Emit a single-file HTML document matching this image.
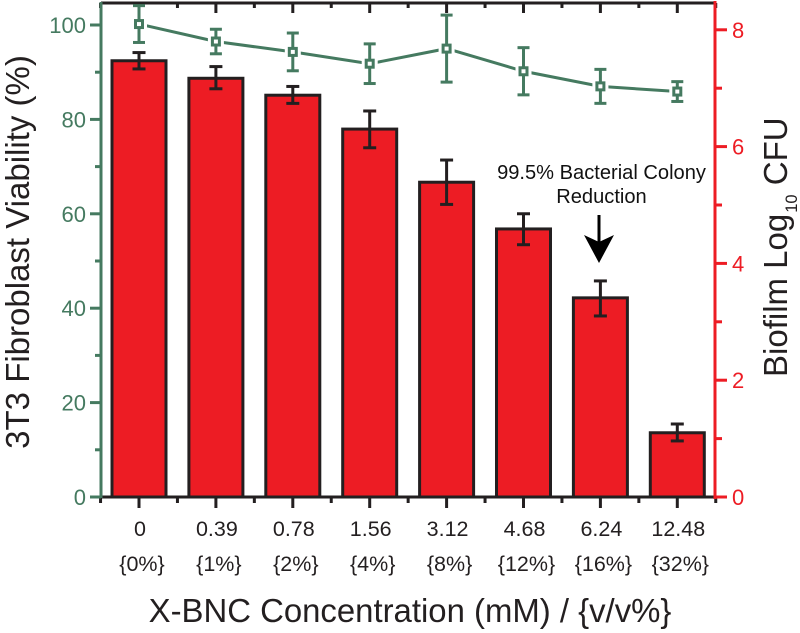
<!DOCTYPE html>
<html lang="en">
<head>
<meta charset="utf-8">
<title>X-BNC viability and biofilm chart</title>
<style>
html,body{margin:0;padding:0;background:#fff;width:800px;height:633px;overflow:hidden}
svg{display:block;font-family:"Liberation Sans",sans-serif}
</style>
</head>
<body>
<svg id="chart" width="800" height="633" viewBox="0 0 800 633" xmlns="http://www.w3.org/2000/svg">
<text transform="translate(29,252) rotate(-90)" text-anchor="middle" font-size="33" fill="#231f20">3T3 Fibroblast Viability (%)</text>
<text transform="translate(787,377) rotate(-90)" text-anchor="start" font-size="33" fill="#231f20">Biofilm Log<tspan font-size="16.5" dx="1" dy="10">10</tspan><tspan dx="0" dy="-10"> CFU</tspan></text>
<text x="410" y="622" text-anchor="middle" font-size="32.9" fill="#231f20">X-BNC Concentration (mM) / {v/v%}</text>
<text x="601.5" y="179" text-anchor="middle" font-size="20.1" fill="#111">99.5% Bacterial Colony</text>
<text x="601.5" y="203" text-anchor="middle" font-size="20.1" fill="#111">Reduction</text>
<line x1="599" y1="215" x2="599" y2="250" stroke="#000" stroke-width="3"/>
<polygon points="584,235 599,242 614,235 599,263" fill="#000"/>
</svg>
<script>
var categories = ['0', '0.39', '0.78', '1.56', '3.12', '4.68', '6.24', '12.48'];
var percentLabels = ['{0%}', '{1%}', '{2%}', '{4%}', '{8%}', '{12%}', '{16%}', '{32%}'];
var biofilmValues = [7.47, 7.17, 6.88, 6.3, 5.39, 4.59, 3.41, 1.1];
var biofilmErrUp = [0.14, 0.2, 0.15, 0.31, 0.38, 0.26, 0.29, 0.15];
var biofilmErrDown = [0.14, 0.18, 0.14, 0.32, 0.38, 0.27, 0.31, 0.14];
var viabilityValues = [100.2, 96.5, 94.3, 91.8, 95, 90.2, 87, 85.9];
var viabilityErr = [3.9, 2.6, 4, 4.2, 7.1, 5, 3.6, 2.1];
var leftTicks = [0, 20, 40, 60, 80, 100];
var leftMinorTicks = [10, 30, 50, 70, 90];
var rightTicks = [0, 2, 4, 6, 8];
var rightMinorTicks = [1, 3, 5, 7];

var NS = 'http://www.w3.org/2000/svg';
var svg = document.getElementById('chart');
var BLACK = '#231f20', GREEN = '#457a60', RED = '#ed1c24';
var plotLeft = 101, plotRight = 715, plotTop = 3, plotBottom = 497;

function xPos(i) { return 139 + i * 76.9; }
function yLeft(v) { return 497 - v * 4.72; }
function yRight(v) { return 497 - v * 58.4; }

function make(tag, attrs, name) {
  var el = document.createElementNS(NS, tag);
  for (var k in attrs) { el.setAttribute(k, attrs[k]); }
  
  
  svg.appendChild(el);
  return el;
}
function line(x1, y1, x2, y2, color, w, name) {
  return make('line', { x1: x1, y1: y1, x2: x2, y2: y2, stroke: color, 'stroke-width': w }, name);
}
function label(x, y, txt, size, color, anchor, name) {
  var t = make('text', { x: x, y: y, 'font-size': size, fill: color, 'text-anchor': anchor }, name);
  t.textContent = txt;
  return t;
}

var barW = 54;
biofilmValues.forEach(function (v, i) {
  var x = xPos(i), top = yRight(v);
  make('rect', { x: x - barW / 2, y: top, width: barW, height: plotBottom - top, fill: RED, stroke: BLACK, 'stroke-width': 3 }, 'bar-' + categories[i]);
  var hi = yRight(v + biofilmErrUp[i]), lo = yRight(v - biofilmErrDown[i]);
  line(x, hi, x, lo, BLACK, 3, 'bar-error-stem-' + categories[i]);
  line(x - 6.5, hi, x + 6.5, hi, BLACK, 3, 'bar-error-cap-upper-' + categories[i]);
  line(x - 6.5, lo, x + 6.5, lo, BLACK, 3, 'bar-error-cap-lower-' + categories[i]);
});

line(plotLeft, plotBottom, plotRight + 1, plotBottom, BLACK, 3, 'x-axis-line');
line(plotLeft, plotTop, plotRight + 1, plotTop, BLACK, 3, 'top-axis-line');
categories.forEach(function (c, i) {
  var x = xPos(i);
  line(x, plotBottom, x, 508, BLACK, 3, 'x-tick-' + c);
  line(x, plotTop, x, 13, BLACK, 3, 'top-tick-' + c);
  label(x + 1, 536, c, 21.5, BLACK, 'middle', 'x-tick-label-' + c);
  label(x + 3, 571, percentLabels[i], 21.5, BLACK, 'middle', 'x-percent-label-' + c);
});
for (var m = 0; m <= categories.length; m++) {
  var mx = xPos(m - 0.5);
  line(mx, plotBottom, mx, 503, BLACK, 3, 'x-minor-tick');
  line(mx, plotTop, mx, 8, BLACK, 3, 'top-minor-tick');
}

line(plotLeft, 2, plotLeft, plotBottom + 1, GREEN, 3, 'left-axis-line');
leftTicks.forEach(function (t) {
  line(90, yLeft(t), plotLeft, yLeft(t), GREEN, 3, 'left-tick-' + t);
  label(86, yLeft(t) + 8, String(t), 22, GREEN, 'end', 'left-tick-label-' + t);
});
leftMinorTicks.forEach(function (t) {
  line(95, yLeft(t), plotLeft, yLeft(t), GREEN, 3, 'left-minor-tick-' + t);
});

line(plotRight, 1, plotRight, plotBottom + 2, RED, 3, 'right-axis-line');
rightTicks.forEach(function (t) {
  line(plotRight, yRight(t), 727, yRight(t), RED, 3, 'right-tick-' + t);
  label(732, yRight(t) + 8, String(t), 22, RED, 'start', 'right-tick-label-' + t);
});
rightMinorTicks.forEach(function (t) {
  line(plotRight, yRight(t), 722, yRight(t), RED, 3, 'right-minor-tick-' + t);
});

var pts = viabilityValues.map(function (v, i) { return xPos(i) + ',' + yLeft(v); }).join(' ');
make('polyline', { points: pts, fill: 'none', stroke: GREEN, 'stroke-width': 3 }, 'viability-line');
viabilityValues.forEach(function (v, i) {
  var x = xPos(i), y = yLeft(v);
  var hi = yLeft(v + viabilityErr[i]), lo = yLeft(v - viabilityErr[i]);
  make('rect', { x: x - 8, y: y - 7, width: 16, height: 14, fill: '#fff' }, 'viability-marker-halo-' + categories[i]);
  line(x, hi, x, lo, GREEN, 3, 'viability-error-stem-' + categories[i]);
  line(x - 6, hi, x + 6, hi, GREEN, 3, 'viability-error-cap-upper-' + categories[i]);
  line(x - 6, lo, x + 6, lo, GREEN, 3, 'viability-error-cap-lower-' + categories[i]);
  make('rect', { x: x - 3.5, y: y - 3.5, width: 7, height: 7, fill: '#fff', stroke: GREEN, 'stroke-width': 3 }, 'viability-marker-' + categories[i]);
});
</script>
</body>
</html>
